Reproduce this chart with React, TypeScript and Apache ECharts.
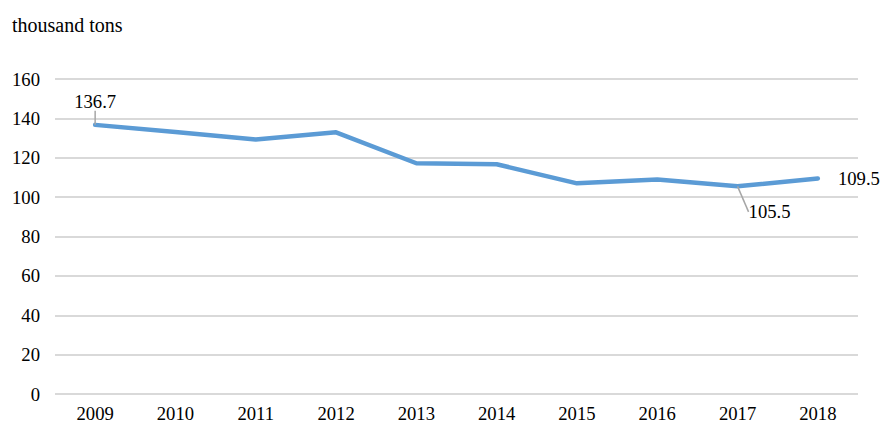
import React, { useEffect, useRef } from "react";
import * as echarts from "echarts";

const years = ["2009", "2010", "2011", "2012", "2013", "2014", "2015", "2016", "2017", "2018"];
const values = [136.7, 133.1, 129.3, 132.9, 117.2, 116.7, 107.0, 109.0, 105.5, 109.5];
const labelledIndexes = [0, 8, 9];

const FONT = "Liberation Serif";

export default function App() {
  const ref = useRef<HTMLDivElement>(null);
  useEffect(() => {
    document.body.style.margin = "0";
    if (!ref.current) return;
    const chart = echarts.init(ref.current, null, { renderer: "svg" });
    const data = values.map((v, i) => {
      if (!labelledIndexes.includes(i)) return { value: v };
      let label: any = { show: true };
      let labelLine: any = { show: false };
      if (i === 0) {
        label = { show: true, position: "top", distance: 14 };
        labelLine = { show: true, length2: 0 };
      } else if (i === 8) {
        label = { show: true, position: "bottom", distance: 4 };
        labelLine = { show: true, length2: 0 };
      } else if (i === 9) {
        label = { show: true, position: "right", distance: 20 };
      }
      return { value: v, label, labelLine };
    });
    chart.setOption({
      animation: false,
      textStyle: { fontFamily: FONT },
      title: {
        text: "thousand tons",
        left: 7,
        top: 10,
        textStyle: { fontFamily: FONT, fontSize: 20, fontWeight: "normal", color: "#000" },
      },
      grid: { left: 55, right: 28, top: 79, bottom: 46 },
      xAxis: {
        type: "category",
        data: years,
        axisLine: { show: false },
        axisTick: { show: false },
        axisLabel: { fontFamily: FONT, fontSize: 18.67, color: "#000", margin: 10 },
      },
      yAxis: {
        type: "value",
        min: 0,
        max: 160,
        interval: 20,
        axisLine: { show: false },
        axisTick: { show: false },
        splitLine: { lineStyle: { color: "#d9d9d9", width: 2 } },
        axisLabel: { fontFamily: FONT, fontSize: 18.67, color: "#000", margin: 15 },
      },
      series: [
        {
          type: "line",
          data,
          symbol: "circle",
          symbolSize: 0.1,
          showSymbol: true,
          itemStyle: { color: "#5b9bd5" },
          lineStyle: { color: "#5b9bd5", width: 4.5, cap: "round", join: "round" },
          label: { fontFamily: FONT, fontSize: 18.67, color: "#000" },
          labelLine: { lineStyle: { color: "#a6a6a6", width: 1.5 } },
          labelLayout: (params: any) => {
            if (params.dataIndex === 8) {
              return { dx: 32, dy: 12 };
            }
            return {};
          },
        },
      ],
    });
    return () => chart.dispose();
  }, []);
  return <div ref={ref} style={{ width: 886, height: 440 }} />;
}
